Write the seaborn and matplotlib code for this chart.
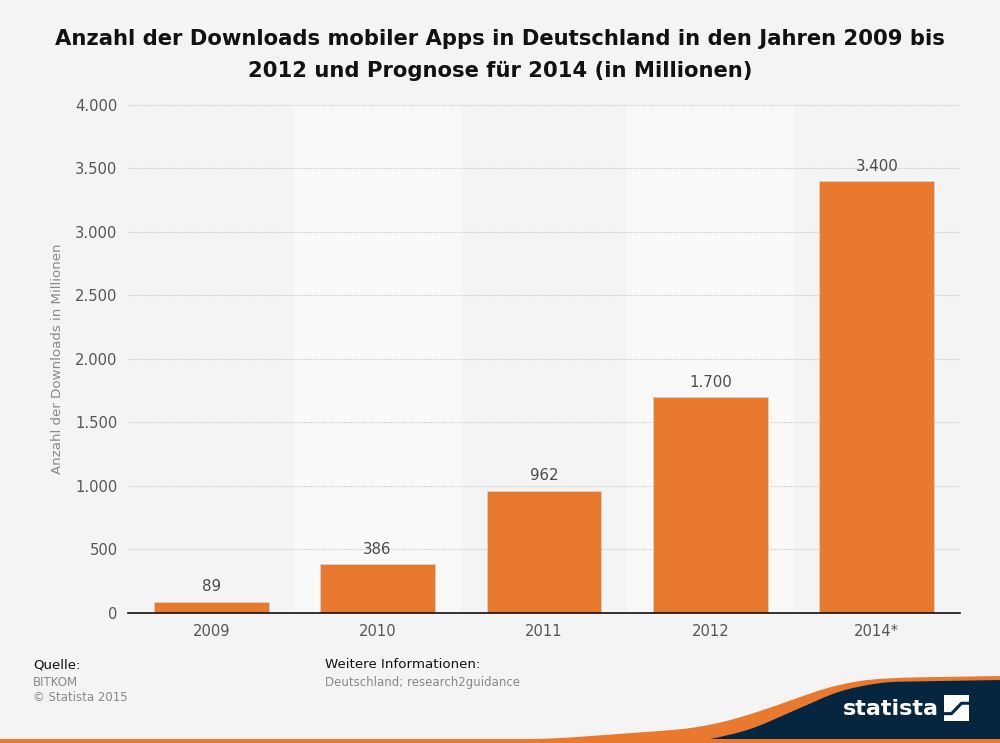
import numpy as np
import pandas as pd
import seaborn as sns
import matplotlib.pyplot as plt
from matplotlib.patches import Polygon
from matplotlib.ticker import FuncFormatter

years = ['2009', '2010', '2011', '2012', '2014*']
downloads = [89, 386, 962, 1700, 3400]
y_ticks = [0, 500, 1000, 1500, 2000, 2500, 3000, 3500, 4000]

title = ('Anzahl der Downloads mobiler Apps in Deutschland in den Jahren 2009 bis\n'
         '2012 und Prognose für 2014 (in Millionen)')
y_label = 'Anzahl der Downloads in Millionen'

orange = '#e8792f'
bg = '#f4f4f4'
navy = '#062640'


def de_fmt(v):
    return f'{int(round(v)):,}'.replace(',', '.')


def draw_footer_wave(fig):
    # decorative statista swoosh, figure coords
    ox = [0.0, 0.40, 0.55, 0.70, 0.75, 0.80, 0.84, 0.883, 1.0]
    oy = [0.004, 0.004, 0.0054, 0.0202, 0.0377, 0.0619, 0.0807, 0.0875, 0.0902]
    nx = [0.66, 0.70, 0.75, 0.80, 0.84, 0.883, 1.0]
    ny = [0.0, 0.002, 0.0175, 0.0471, 0.0707, 0.0821, 0.0848]
    k = np.ones(31) / 31
    gx = np.linspace(0, 1, 500)
    go = np.convolve(np.pad(np.interp(gx, ox, oy), 15, mode='edge'), k, mode='valid')
    gxn = np.linspace(nx[0], 1, 300)
    gn = np.convolve(np.pad(np.interp(gxn, nx, ny), 15, mode='edge'), k, mode='valid')
    fig.patches.append(Polygon([(0, 0)] + list(zip(gx, go)) + [(1, 0)], closed=True,
                               transform=fig.transFigure, color=orange, lw=0, zorder=1))
    fig.patches.append(Polygon([(nx[0], 0)] + list(zip(gxn, gn)) + [(1, 0)], closed=True,
                               transform=fig.transFigure, color=navy, lw=0, zorder=2))
    fig.patches.append(plt.Rectangle((0, 0), 1, 0.006, transform=fig.transFigure,
                                     color=orange, lw=0, zorder=3))
    fig.text(0.843, 0.046, 'statista', fontsize=16, fontweight='bold', color='white',
             va='center', ha='left', zorder=4)
    x0, y0, w, h = 0.944, 0.029, 0.025, 0.035
    fig.patches.append(plt.Rectangle((x0, y0), w, h, transform=fig.transFigure,
                                     color='white', lw=0, zorder=4))
    sx = [0.0, 0.3, 0.45, 0.55, 0.7, 1.0]
    sy = [0.3, 0.3, 0.45, 0.55, 0.7, 0.7]
    fig.lines.append(plt.Line2D([x0 + w * a for a in sx], [y0 + h * b for b in sy],
                                transform=fig.transFigure, color=navy, lw=2.2,
                                solid_capstyle='butt', zorder=5))


def main():
    sns.set_theme(style='white')
    plt.rcParams['font.family'] = ['DejaVu Sans']

    df = pd.DataFrame({'year': years, 'downloads': downloads})

    fig = plt.figure(figsize=(10, 7.43), dpi=100, facecolor=bg)
    ax = fig.add_axes([0.128, 0.175, 0.832, 0.6837])
    ax.set_facecolor(bg)

    # alternating column shading
    for i in range(len(years)):
        if i % 2 == 1:
            ax.axvspan(i - 0.5, i + 0.5, color='#f9f9f9', zorder=0, lw=0)

    sns.barplot(data=df, x='year', y='downloads', color=orange, saturation=1,
                width=0.69, ax=ax, zorder=3, edgecolor='#d9d2cc', linewidth=0.6)

    for i, v in enumerate(downloads):
        ax.annotate(de_fmt(v), (i, v), xytext=(0, 5.3), textcoords='offset points',
                    ha='center', va='bottom', fontsize=10.8, color='#4a4a4a')

    ax.set_xlim(-0.5, len(years) - 0.5)
    ax.set_ylim(0, 4000)
    ax.set_yticks(y_ticks)
    ax.yaxis.set_major_formatter(FuncFormatter(lambda v, p: de_fmt(v)))
    ax.grid(axis='y', color='#c8c8c8', linestyle=(0, (1, 1)), linewidth=0.8, zorder=1)
    ax.set_axisbelow(True)
    for s in ['top', 'right', 'left']:
        ax.spines[s].set_visible(False)
    ax.spines['bottom'].set_color('#111111')
    ax.spines['bottom'].set_linewidth(1.2)
    ax.spines['bottom'].set_zorder(5)
    ax.tick_params(axis='both', length=0, labelsize=10.6, labelcolor='#555555')
    ax.tick_params(axis='x', pad=8)
    ax.tick_params(axis='y', pad=7.5)
    ax.set_xlabel('')
    ax.set_ylabel(y_label, fontsize=9.6, color='#888888', labelpad=8)

    fig.text(0.5, 0.961, title, ha='center', va='top', fontsize=15.2,
             fontweight='bold', color='#111111', linespacing=1.75)

    # footer
    fig.text(0.033, 0.105, 'Quelle:', fontsize=9.6, color='#111111', va='center')
    fig.text(0.033, 0.082, 'BITKOM', fontsize=8.5, color='#888888', va='center')
    fig.text(0.033, 0.061, '© Statista 2015', fontsize=8.5, color='#888888', va='center')
    fig.text(0.325, 0.105, 'Weitere Informationen:', fontsize=9.6, color='#111111', va='center')
    fig.text(0.325, 0.082, 'Deutschland; research2guidance', fontsize=8.5, color='#888888', va='center')

    draw_footer_wave(fig)

    fig.savefig('out.png', dpi=100, facecolor=bg)


if __name__ == '__main__':
    main()
